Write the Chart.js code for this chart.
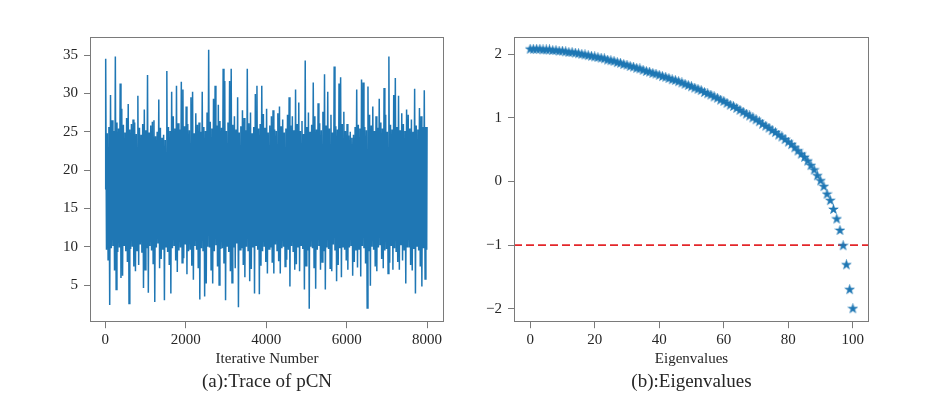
<!DOCTYPE html>
<html><head><meta charset="utf-8">
<script src="https://cdn.jsdelivr.net/npm/chart.js@4/dist/chart.umd.min.js"></script>
<style>
html,body{margin:0;padding:0;background:#fff;}
#wrap{position:relative;width:933px;height:405px;overflow:hidden;background:#fff;}
canvas{position:absolute;top:0;}
</style></head><body>
<div id="wrap"><canvas id="c1" width="466" height="405" style="left:0"></canvas><canvas id="c2" width="467" height="405" style="left:466px"></canvas></div>
<script>
// ---------- data: (a) trace of pCN (envelope read per 40 iterations) ----------
const traceStep = 40;
const traceStart = 17.5;
const traceEnd = 25.6;
const traceLastIter = 7999;
const tracePeaks = [
 34.5,24.8, 25.6,29.8, 26.5,25.1, 34.8,26.2, 25.4,31.3,
 28.0,25.9, 24.9,26.8, 28.6,25.3, 26.0,26.6, 26.2,24.7,
 29.7,25.5, 24.6,26.0, 27.9,25.2, 32.4,24.9, 25.8,26.3,
 26.5,24.4, 25.0,29.2, 25.5,24.2, 24.6,23.9, 32.9,25.6,
 25.1,30.2, 27.0,25.4, 31.0,26.1, 25.3,31.5, 30.5,25.7,
 28.3,26.0, 25.2,29.5, 30.2,24.8, 27.4,25.9, 26.2,25.0,
 30.2,25.6, 25.1,27.5, 35.7,26.3, 25.4,29.3, 31.0,25.8,
 28.5,26.4, 25.5,33.2, 31.6,25.1, 26.2,31.6, 33.2,25.9,
 27.0,25.3, 29.5,24.9, 25.7,27.8, 26.8,25.2, 33.2,26.1,
 27.5,24.8, 25.6,29.9, 31.0,25.4, 26.0,31.0, 27.3,25.5,
 28.0,24.9, 25.8,27.0, 27.8,25.3, 25.1,27.4, 28.3,25.7,
 26.6,24.9, 25.4,27.2, 29.5,25.8, 27.0,25.2, 30.5,26.0,
 28.8,25.1, 26.4,24.7, 34.3,25.6, 27.5,25.0, 25.9,31.4,
 27.0,25.3, 28.7,26.1, 25.2,27.6, 32.5,25.8, 30.2,25.4,
 27.2,24.9, 33.5,25.7, 25.3,31.3, 32.1,26.0, 27.6,25.1,
 26.0,24.5, 25.0,24.2, 24.6,25.6, 30.5,25.9, 25.4,31.8,
 31.4,25.6, 25.2,30.9, 27.2,25.8, 28.3,25.1, 27.0,25.5,
 29.3,26.2, 25.4,30.7, 27.2,25.0, 34.8,25.9, 25.3,29.8,
 32.0,25.6, 29.7,25.2, 27.4,26.0, 25.1,27.9, 27.2,25.4,
 26.6,25.0, 30.6,25.8, 25.3,28.1, 27.0,25.6, 30.4,25.6
];
const traceTroughs = [
 9.6,8.3, 2.4,9.8, 10.1,6.9, 4.4,9.3, 9.9,5.9,
 6.2,10.2, 9.4,8.0, 2.6,9.7, 10.0,7.4, 6.8,9.5,
 7.6,10.3, 9.2,4.6, 7.0,9.8, 4.0,10.1, 9.5,7.8,
 2.8,9.9, 10.4,7.2, 8.4,9.6, 3.0,10.0, 9.3,7.6,
 3.9,9.8, 10.2,8.2, 6.7,9.5, 9.9,7.9, 8.5,10.3,
 6.4,9.4, 9.7,7.5, 5.7,10.1, 9.6,7.2, 3.1,9.8,
 9.5,3.5, 5.2,10.0, 9.9,7.0, 5.2,9.4, 10.2,7.4,
 5.0,9.7, 9.8,7.8, 3.0,10.1, 9.3,6.8, 5.3,9.9,
 7.2,10.4, 2.1,9.6, 9.8,7.6, 6.0,10.0, 9.5,5.5,
 7.1,9.9, 3.9,10.2, 9.6,3.8, 7.5,9.4, 10.1,8.0,
 6.5,9.7, 9.9,7.9, 6.5,10.3, 9.5,8.1, 6.5,9.8,
 10.0,7.4, 8.3,9.6, 4.8,10.1, 9.4,7.0, 7.7,9.9,
 6.8,10.2, 9.7,4.4, 7.5,9.5, 1.9,10.0, 9.8,7.3,
 4.5,9.6, 10.1,7.0, 8.0,9.4, 4.4,9.9, 9.7,7.2,
 6.8,10.3, 9.5,5.5, 7.6,9.8, 6.0,10.0, 9.6,8.2,
 7.0,9.9, 10.2,6.2, 8.0,9.5, 7.3,9.7, 6.1,10.1,
 9.8,7.8, 2.0,9.4, 4.9,10.0, 9.6,7.4, 6.8,9.9,
 10.3,8.4, 7.2,9.5, 9.7,6.5, 7.9,10.1, 7.0,9.8,
 9.4,8.0, 7.0,10.2, 8.2,9.6, 5.2,9.9, 10.0,7.6,
 6.9,9.7, 3.9,10.1, 9.5,7.4, 4.8,9.8, 5.8,9.6
];
const traceTicksX = [0, 2000, 4000, 6000, 8000];
const traceTicksY = [5, 10, 15, 20, 25, 30, 35];

// ---------- data: (b) eigenvalues ----------
const eigenValues = [
 2.08,2.08,2.08,2.08,2.07,2.07,2.07,2.06,2.06,2.05,
 2.05,2.04,2.03,2.03,2.02,2.01,2.00,1.99,1.98,1.97,
 1.96,1.95,1.94,1.93,1.91,1.90,1.89,1.87,1.86,1.84,
 1.83,1.81,1.80,1.78,1.77,1.75,1.73,1.72,1.70,1.69,
 1.67,1.65,1.64,1.62,1.60,1.59,1.57,1.55,1.53,1.51,
 1.49,1.47,1.45,1.43,1.40,1.38,1.36,1.33,1.31,1.28,
 1.26,1.23,1.20,1.18,1.15,1.12,1.09,1.06,1.03,1.00,
 0.97,0.94,0.90,0.87,0.84,0.80,0.77,0.73,0.70,0.66,
 0.62,0.58,0.53,0.48,0.43,0.38,0.32,0.25,0.18,0.09,
 0.01,-0.08,-0.20,-0.30,-0.44,-0.59,-0.77,-1.01,-1.31,-1.70,
 -2.00
];
const thresholdY = -1;
const eigenTicksX = [0, 20, 40, 60, 80, 100];
const eigenTicksY = [-2, -1, 0, 1, 2];

// ---------- styling ----------
const FONT = "'Liberation Serif', 'Times New Roman', 'DejaVu Serif', serif";
const TEXT = '#262626';
const SPINE = '#7a7a7a';
const BLUE = '#1f77b4';
Chart.defaults.font.family = FONT;
Chart.defaults.color = TEXT;

const fmt = v => String(v).replace('-', '\u2212');

const boxPlugin = {
  id: 'box',
  afterDraw(chart) {
    const {ctx, chartArea: a} = chart;
    ctx.save();
    ctx.strokeStyle = SPINE;
    ctx.lineWidth = 1;
    const l = Math.round(a.left) + 0.5, t = Math.round(a.top) + 0.5;
    const r = Math.round(a.right) - 0.5, b = Math.round(a.bottom) - 0.5;
    ctx.strokeRect(l, t, r - l, b - t);
    ctx.restore();
  }
};

function axis(min, max, ticks, fit, pad, extra) {
  return Object.assign({
    type: 'linear', min, max,
    afterBuildTicks: s => { s.ticks = ticks.map(v => ({value: v})); },
    afterFit: fit,
    grid: {display: true, drawOnChartArea: false, drawTicks: true, tickLength: 6, color: SPINE, lineWidth: 1},
    border: {display: false},
    ticks: {font: {size: 15}, color: TEXT, padding: pad, maxRotation: 0, autoSkip: false, callback: v => fmt(v)}
  }, extra);
}

function makeStar(size, color) {
  const c = document.createElement('canvas');
  c.width = c.height = size;
  const g = c.getContext('2d');
  const cx = size / 2, cy = size / 2, R = size / 2 - 0.5, r = R * 0.382;
  g.beginPath();
  for (let k = 0; k < 10; k++) {
    const ang = -Math.PI / 2 + k * Math.PI / 5;
    const rad = k % 2 === 0 ? R : r;
    const px = cx + rad * Math.cos(ang), py = cy + rad * Math.sin(ang);
    if (k === 0) g.moveTo(px, py); else g.lineTo(px, py);
  }
  g.closePath();
  g.fillStyle = color;
  g.fill();
  g.strokeStyle = color;
  g.lineWidth = 0.6;
  g.stroke();
  return c;
}

function caption(text) {
  return {display: true, position: 'bottom', fullSize: false, text, color: TEXT,
          font: {size: 19, weight: 'normal', family: FONT}, padding: 0};
}

// ---------- chart (a) ----------
const traceData = [{x: 0, y: traceStart}];
for (let j = 0; j < tracePeaks.length; j++) {
  traceData.push({x: j * traceStep + traceStep / 4, y: tracePeaks[j]});
  traceData.push({x: j * traceStep + 3 * traceStep / 4, y: traceTroughs[j]});
}
traceData.push({x: traceLastIter, y: traceEnd});

new Chart(document.getElementById('c1'), {
  type: 'scatter',
  data: {datasets: [{
    data: traceData, showLine: true, borderColor: BLUE, backgroundColor: BLUE,
    borderWidth: 1.5, pointRadius: 0, pointHoverRadius: 0, tension: 0, fill: false
  }]},
  options: {
    responsive: false, animation: false, events: [],
    layout: {padding: {left: 50, right: 22, top: 37, bottom: 12}},
    plugins: {legend: {display: false}, tooltip: {enabled: false}, title: caption('(a):Trace of pCN')},
    scales: {
      x: axis(-380, 8420, traceTicksX, s => { s.height = 48; }, 3, {
        title: {display: true, text: 'Iterative Number', color: TEXT, font: {size: 15}, padding: {top: 0, bottom: 2.4}}
      }),
      y: axis(0.15, 37.35, traceTicksY, s => { s.width = 40; }, 6, {})
    }
  },
  plugins: [boxPlugin]
});

// ---------- chart (b) ----------
const eigenXMin = -5, eigenXMax = 105;
const starImg = makeStar(11, BLUE);
new Chart(document.getElementById('c2'), {
  type: 'scatter',
  data: {datasets: [
    {data: eigenValues.map((v, i) => ({x: i, y: v})), pointStyle: starImg,
     pointRadius: 5, pointHoverRadius: 5, backgroundColor: BLUE, borderColor: BLUE, showLine: false},
    {data: [{x: eigenXMin, y: thresholdY}, {x: eigenXMax, y: thresholdY}], showLine: true,
     borderColor: '#e3262a', borderWidth: 1.6, borderDash: [8, 4], pointRadius: 0, pointHoverRadius: 0, fill: false}
  ]},
  options: {
    responsive: false, animation: false, events: [],
    layout: {padding: {left: 8, right: 64, top: 37, bottom: 12}},
    plugins: {legend: {display: false}, tooltip: {enabled: false}, title: caption('(b):Eigenvalues')},
    scales: {
      x: axis(eigenXMin, eigenXMax, eigenTicksX, s => { s.height = 48; }, 3, {
        title: {display: true, text: 'Eigenvalues', color: TEXT, font: {size: 15}, padding: {top: 0, bottom: 2.4}}
      }),
      y: axis(-2.212, 2.272, eigenTicksY, s => { s.width = 40; }, 6, {})
    }
  },
  plugins: [boxPlugin]
});
</script>
</body></html>
